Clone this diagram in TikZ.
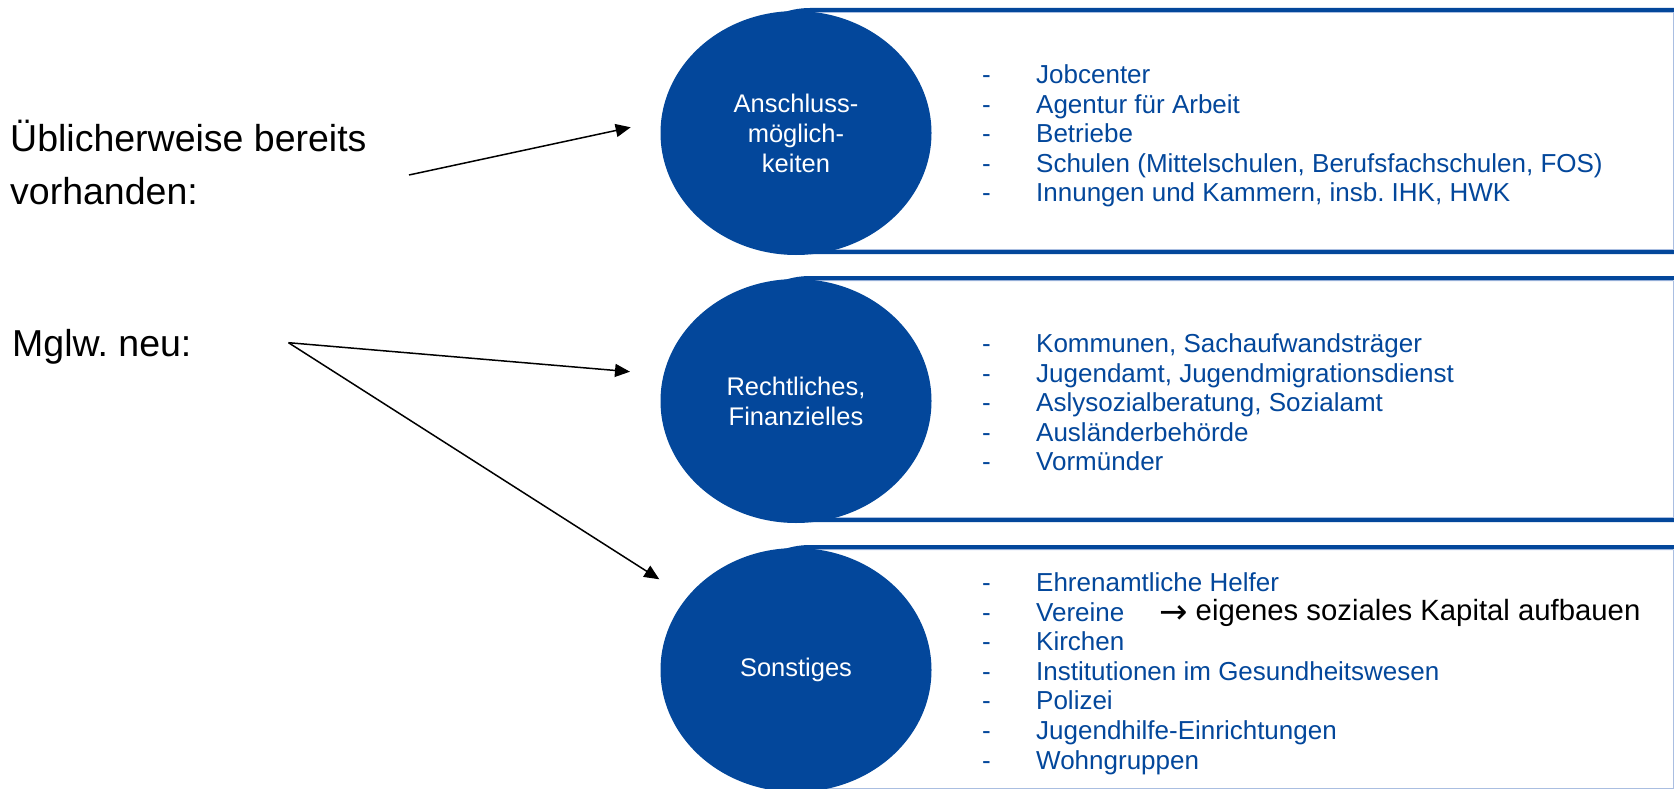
\documentclass[tikz,border=0pt]{standalone}
\usepackage{fontspec}
\setmainfont{Liberation Sans}
\newfontfamily\dejavu{DejaVu Sans}
\usetikzlibrary{arrows.meta,shapes.geometric}
\definecolor{dblue}{RGB}{3,71,155}
\definecolor{lblue}{RGB}{170,190,225}
\frenchspacing
\newcommand\rowbox[2]{%
  \draw[lblue,line width=1pt,rounded corners=77pt] (1673.3,#1+2.5) -- (732,#1+2.5) -- (732,#2-2.5) -- (1673.3,#2-2.5);
  \draw[lblue,line width=1pt] (1673.3,#1+2.5) -- (1673.3,#2-2.5);
  \draw[dblue,line width=4pt,rounded corners=80pt] (1680,#1) -- (730,#1) -- (730,#2) -- (1680,#2);
}
\begin{document}
\begin{tikzpicture}[x=1pt,y=-1pt,
  circ/.style={ellipse,fill=dblue,draw=none,minimum width=271pt,minimum height=244pt,inner sep=0pt,
    text=white,align=center,font=\fontsize{25.5}{30}\selectfont},
  list/.style={anchor=base west,inner sep=0pt,text=dblue,font=\fontsize{26}{29.6}\selectfont},
  lefttext/.style={anchor=base west,inner sep=0pt,text=black,font=\fontsize{37.5}{53}\selectfont},
  arr/.style={line width=1.5pt,-{Triangle[length=15pt,width=13pt]}}]
\useasboundingbox (0,0) rectangle (1674,789);
\clip (0,0) rectangle (1674,789);
\fill[white] (0,0) rectangle (1674,789);
\rowbox{10}{252}
\rowbox{278}{520}
\rowbox{547}{791}
\node[circ] (c1) at (796,133) {Anschluss-\\möglich-\\keiten};
\node[circ] (c2) at (796,401) {Rechtliches,\\Finanzielles};
\node[circ] (c3) at (796,670) {Sonstiges};
\node[list] (l1) at (982,83.5) {\begin{tabular}[t]{@{}l@{}}
\makebox[54pt][l]{-}Jobcenter\\
\makebox[54pt][l]{-}Agentur für Arbeit\\
\makebox[54pt][l]{-}Betriebe\\
\makebox[54pt][l]{-}Schulen (Mittelschulen, Berufsfachschulen, FOS)\\
\makebox[54pt][l]{-}Innungen und Kammern, insb. IHK, HWK
\end{tabular}};
\node[list] (l2) at (982,352.5) {\begin{tabular}[t]{@{}l@{}}
\makebox[54pt][l]{-}Kommunen, Sachaufwandsträger\\
\makebox[54pt][l]{-}Jugendamt, Jugendmigrationsdienst\\
\makebox[54pt][l]{-}Aslysozialberatung, Sozialamt\\
\makebox[54pt][l]{-}Ausländerbehörde\\
\makebox[54pt][l]{-}Vormünder
\end{tabular}};
\node[list] (l3) at (982,591.5) {\begin{tabular}[t]{@{}l@{}}
\makebox[54pt][l]{-}Ehrenamtliche Helfer\\
\makebox[54pt][l]{-}Vereine\\
\makebox[54pt][l]{-}Kirchen\\
\makebox[54pt][l]{-}Institutionen im Gesundheitswesen\\
\makebox[54pt][l]{-}Polizei\\
\makebox[54pt][l]{-}Jugendhilfe-Einrichtungen\\
\makebox[54pt][l]{-}Wohngruppen
\end{tabular}};
\node[anchor=base west,inner sep=0pt,text=black,font=\fontsize{29.3}{35}\selectfont] (kap) at (1159,620.5)
  {\makebox[36.5pt][l]{\raisebox{-2.5pt}{\dejavu\fontsize{34}{40}\selectfont →}}eigenes soziales Kapital aufbauen};
\node[lefttext] (t1) at (10,152) {\begin{tabular}[t]{@{}l@{}}Üblicherweise bereits\\vorhanden:\end{tabular}};
\node[lefttext] (t2) at (12,356) {Mglw. neu:};
\coordinate (s1) at (409,175);
\coordinate (e1) at (630.7,127.3);
\coordinate (s2) at (288.5,342.7);
\coordinate (e2) at (630,371.7);
\coordinate (e3) at (659.3,579.3);
\draw[arr] (s1) -- (e1);
\draw[arr] (s2) -- (e2);
\draw[arr] (s2) -- (e3);
\end{tikzpicture}
\end{document}
